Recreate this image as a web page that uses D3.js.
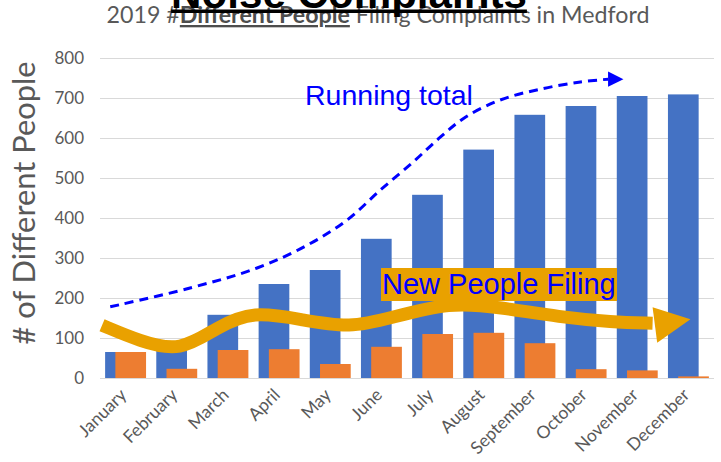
<!DOCTYPE html>
<html>
<head>
<meta charset="utf-8">
<script src="https://cdn.jsdelivr.net/npm/d3@7"></script>
<style>
  body { margin: 0; background: white; }
  svg { display: block; }
</style>
</head>
<body>
<div id="chart"></div>
<script>
// 데이터
const months = ["January", "February", "March", "April", "May", "June",
  "July", "August", "September", "October", "November", "December"];
const runningTotal = [65, 88, 158, 235, 270, 348, 458, 571, 658, 680, 705, 709];
const newPeople = [65, 23, 70, 72, 35, 78, 110, 113, 87, 22, 19, 4];
const yTicks = [0, 100, 200, 300, 400, 500, 600, 700, 800];

// 주석 곡선 (x = 월 인덱스, y = 값)
const runningCurve = [[-0.3, 178], [1.26, 225], [2.57, 275], [3.55, 332], [4.33, 395],
  [4.98, 470], [5.62, 540], [6.15, 602], [6.64, 652], [7.32, 695], [8.1, 722], [8.89, 740], [9.43, 747]];
const newCurve = [[-0.46, 132], [0.28, 92], [1.07, 65], [1.79, 127], [2.49, 168], [3.47, 145],
  [4.39, 125], [5.17, 150], [6.35, 190], [7.3, 177], [8.5, 152], [9.5, 140], [10.3, 137]];

const W = 721, H = 462;
const svg = d3.select("#chart").append("svg").attr("width", W).attr("height", H);

const x = d3.scaleBand().domain(months).range([100, 714]).padding(0);
const y = d3.scaleLinear().domain([0, 800]).range([378, 58]);
const step = x.step();
const idx = d3.scaleLinear().domain([0, 11])
  .range([x(months[0]) + step / 2, x(months[11]) + step / 2]);

const gray = "#595959";

// 텍스트 폭 맞추기
function fitWidth(sel, target) {
  const fs = parseFloat(sel.attr("font-size"));
  const w = sel.node().getComputedTextLength();
  sel.attr("font-size", fs * target / w);
}

// 격자선
svg.append("g").selectAll("line").data(yTicks).join("line")
  .attr("x1", 100).attr("x2", 714)
  .attr("y1", d => y(d) + 0.5).attr("y2", d => y(d) + 0.5)
  .attr("stroke", "#d9d9d9").attr("stroke-width", 1);

// y축
const yAxis = svg.append("g").attr("transform", "translate(84,0)")
  .call(d3.axisLeft(y).tickValues(yTicks).tickSize(0).tickPadding(0));
yAxis.select(".domain").remove();
yAxis.selectAll("text").attr("font-family", "Lato").attr("font-size", 17).attr("fill", gray);

// 막대
const bw = step * 0.6, off = step * 0.2;
svg.append("g").selectAll("rect").data(runningTotal).join("rect")
  .attr("x", (d, i) => x(months[i]) + step * 0.1)
  .attr("y", d => y(d))
  .attr("width", bw)
  .attr("height", d => y(0) - y(d))
  .attr("fill", "#4472C4");
svg.append("g").selectAll("rect").data(newPeople).join("rect")
  .attr("x", (d, i) => x(months[i]) + step * 0.1 + off)
  .attr("y", d => y(d))
  .attr("width", bw)
  .attr("height", d => y(0) - y(d))
  .attr("fill", "#ED7D31");

// x축 라벨
svg.append("g").selectAll("text").data(months).join("text")
  .attr("transform", d => `translate(${x(d) + step / 2 + 2},${396}) rotate(-45)`)
  .attr("text-anchor", "end")
  .attr("font-family", "Lato").attr("font-size", 17.5).attr("fill", gray)
  .text(d => d);

// y축 제목
const yTitle = svg.append("text")
  .attr("transform", `translate(35,${203}) rotate(-90)`)
  .attr("text-anchor", "middle")
  .attr("font-family", "Lato").attr("font-size", 28).attr("fill", gray)
  .text("# of Different People");
fitWidth(yTitle, 283);

// 부제목
const sub = svg.append("text")
  .attr("x", 378).attr("y", 23)
  .attr("text-anchor", "middle")
  .attr("font-family", "Lato").attr("font-size", 20).attr("fill", gray);
sub.append("tspan").text("2019 #");
sub.append("tspan").attr("font-weight", "bold").attr("fill", "#4d4d4d")
  .style("text-decoration", "underline").text("Different People");
sub.append("tspan").text(" Filing Complaints in Medford");
fitWidth(sub, 543);

// 제목 (위쪽이 잘린 채로)
const title = svg.append("text")
  .attr("x", 349).attr("y", 8)
  .attr("text-anchor", "middle")
  .attr("font-family", "Liberation Sans").attr("font-weight", "bold")
  .attr("font-size", 40).attr("fill", "black")
  .text("Noise Complaints");
fitWidth(title, 356);
const tb = title.node().getBBox();
svg.append("rect").attr("x", tb.x).attr("y", 9.5).attr("width", tb.width).attr("height", 3.5)
  .attr("fill", "black");

// 누적 점선 화살표
const line = d3.line().x(d => idx(d[0])).y(d => y(d[1])).curve(d3.curveCatmullRom);
svg.append("path").datum(runningCurve)
  .attr("d", line)
  .attr("fill", "none").attr("stroke", "#0000FF").attr("stroke-width", 3)
  .attr("stroke-dasharray", "9 6");
const tipR = runningCurve[runningCurve.length - 1];
svg.append("path")
  .attr("d", d3.line()([[idx(tipR[0]), y(tipR[1] + 19)], [idx(tipR[0] + 0.3), y(tipR[1])],
    [idx(tipR[0]), y(tipR[1] - 19)]]) + "Z")
  .attr("fill", "#0000FF");

svg.append("text")
  .attr("x", 305).attr("y", 105)
  .attr("font-family", "Liberation Sans").attr("font-size", 28.5).attr("fill", "#0000FF")
  .text("Running total");

// 신규 굵은 화살표
svg.append("path").datum(newCurve)
  .attr("d", line.curve(d3.curveBasis))
  .attr("fill", "none").attr("stroke", "#E9A100").attr("stroke-width", 13)
  .attr("stroke-linecap", "butt");
svg.append("path")
  .attr("d", d3.line()([[idx(10.3), y(177)], [idx(11.04), y(147)], [idx(10.39), y(88)]]) + "Z")
  .attr("fill", "#E9A100");

// 신규 라벨 박스
svg.append("rect").attr("x", 381).attr("y", 268).attr("width", 236).attr("height", 33)
  .attr("fill", "#E9A100");
svg.append("text")
  .attr("x", 382).attr("y", 294)
  .attr("font-family", "Liberation Sans").attr("font-size", 29).attr("fill", "#0000FF")
  .text("New People Filing");
</script>
</body>
</html>
